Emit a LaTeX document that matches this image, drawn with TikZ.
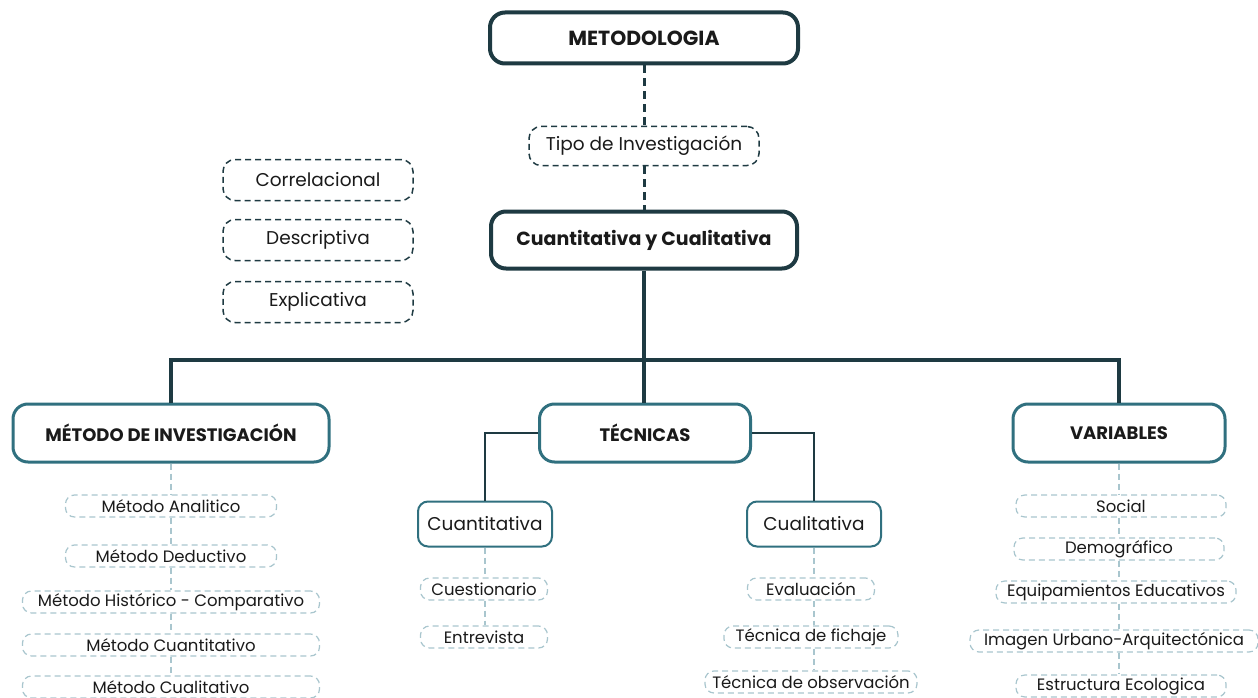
\documentclass[tikz,border=0pt]{standalone}
\usepackage{fontspec}
\setmainfont{Poppins}
\definecolor{dark}{HTML}{1E3A42}
\definecolor{teal}{HTML}{30707F}
\definecolor{light}{HTML}{A9C6CE}
\definecolor{txt}{HTML}{1A1A1A}
\tikzset{
  big/.style={draw=dark, line width=4pt, rounded corners=15pt, fill=white, text=txt, font=\fontsize{19}{22}\selectfont\bfseries},
  mid/.style={draw=teal, line width=3pt, rounded corners=15pt, fill=white, text=txt, font=\fontsize{18}{21}\selectfont\bfseries},
  sub/.style={draw=teal, line width=2pt, rounded corners=10pt, fill=white, text=txt, font=\fontsize{18.5}{21}\selectfont},
  dbox/.style={draw=dark, line width=1.5pt, dash pattern=on 6pt off 4pt, rounded corners=12pt, fill=white, text=txt, font=\fontsize{18.5}{21}\selectfont},
  lbox/.style={draw=light, line width=1.2pt, dash pattern=on 6pt off 4pt, rounded corners=9pt, fill=white, text=txt, minimum height=22pt, inner sep=0pt, font=\fontsize{16.5}{19}\selectfont},
  thickdash/.style={draw=dark, line width=3pt, dash pattern=on 8pt off 5pt},
  tree/.style={draw=dark, line width=4pt},
  thin/.style={draw=dark, line width=1.5pt},
  ldash/.style={draw=light, line width=1.2pt, dash pattern=on 6pt off 4pt},
}
\begin{document}
\begin{tikzpicture}[x=1pt,y=-1pt]
\useasboundingbox (0,0) rectangle (1258,698);
% top
\node[big, minimum width=308pt, minimum height=51pt, font=\fontsize{20.4}{23}\selectfont\bfseries] (meto) at (644,38) {METODOLOGIA};
\node[dbox, minimum width=230pt, minimum height=39pt] (tipo) at (644,146) {Tipo de Investigación};
\node[big, minimum width=306pt, minimum height=57pt] (cc) at (644,240) {Cuantitativa y Cualitativa};
\draw[thickdash] (meto.south) -- (tipo.north);
\draw[thickdash] (tipo.south) -- (cc.north);
% types
\node[dbox, minimum width=190pt, minimum height=41pt] (corr) at (318,180) {Correlacional};
\node[dbox, minimum width=190pt, minimum height=41pt] (desc) at (318,240) {Descriptiva};
\node[dbox, minimum width=190pt, minimum height=41pt] (expl) at (318,302) {Explicativa};
% second level
\node[mid, minimum width=316pt, minimum height=58pt] (met) at (171,433) {MÉTODO DE INVESTIGACIÓN};
\node[mid, minimum width=211pt, minimum height=58pt] (tec) at (645,433) {TÉCNICAS};
\node[mid, minimum width=212pt, minimum height=58pt] (var) at (1119,433) {VARIABLES};
\coordinate (hub) at (644,360);
\draw[tree] (met.north) |- (hub) -| (var.north);
\draw[tree] (cc.south) -- (cc.south |- tec.north);
% tecnicas
\node[sub, minimum width=134pt, minimum height=45pt] (cuan) at (485,524) {Cuantitativa};
\node[sub, minimum width=134pt, minimum height=45pt] (cual) at (814,524) {Cualitativa};
\draw[thin] (tec.west) -| (cuan.north);
\draw[thin] (tec.east) -| (cual.north);
\node[lbox, minimum width=127pt] (cues) at (484,589) {Cuestionario};
\node[lbox, minimum width=127pt] (entr) at (484,637) {Entrevista};
\node[lbox, minimum width=127pt] (eval) at (811,589) {Evaluación};
\node[lbox, minimum width=174pt] (fich) at (811,637) {Técnica de fichaje};
\node[lbox, minimum width=212pt] (obse) at (811,682) {Técnica de observación};
\draw[ldash] (cuan.south) -- (cuan.south |- cues.north);
\draw[ldash] (cuan.south |- cues.south) -- (cuan.south |- entr.north);
\draw[ldash] (cual.south) -- (cual.south |- eval.north);
\draw[ldash] (cual.south |- eval.south) -- (cual.south |- fich.north);
\draw[ldash] (cual.south |- fich.south) -- (cual.south |- obse.north);
% metodo
\node[lbox, minimum width=211pt] (ma) at (171,506) {Método Analitico};
\node[lbox, minimum width=211pt] (md) at (171,556) {Método Deductivo};
\node[lbox, minimum width=297pt] (mh) at (171,602) {Método Histórico - Comparativo};
\node[lbox, minimum width=297pt] (mcn) at (171,645) {Método Cuantitativo};
\node[lbox, minimum width=297pt] (mcl) at (171,687) {Método Cualitativo};
\draw[ldash] (met.south) -- (met.south |- ma.north);
\draw[ldash] (met.south |- ma.south) -- (met.south |- md.north);
\draw[ldash] (met.south |- md.south) -- (met.south |- mh.north);
\draw[ldash] (met.south |- mh.south) -- (met.south |- mcn.north);
\draw[ldash] (met.south |- mcn.south) -- (met.south |- mcl.north);
% variables
\node[lbox, minimum width=210pt] (soc) at (1121,506) {Social};
\node[lbox, minimum width=210pt] (dem) at (1119,549) {Demográfico};
\node[lbox, minimum width=240pt] (equ) at (1116,592) {Equipamientos Educativos};
\node[lbox, minimum width=288pt] (ima) at (1114,641) {Imagen Urbano-Arquitectónica};
\node[lbox, minimum width=210pt] (est) at (1121,686) {Estructura Ecologica};
\draw[ldash] (var.south) -- (var.south |- soc.north);
\draw[ldash] (var.south |- soc.south) -- (var.south |- dem.north);
\draw[ldash] (var.south |- dem.south) -- (var.south |- equ.north);
\draw[ldash] (var.south |- equ.south) -- (var.south |- ima.north);
\draw[ldash] (var.south |- ima.south) -- (var.south |- est.north);
\end{tikzpicture}
\end{document}
